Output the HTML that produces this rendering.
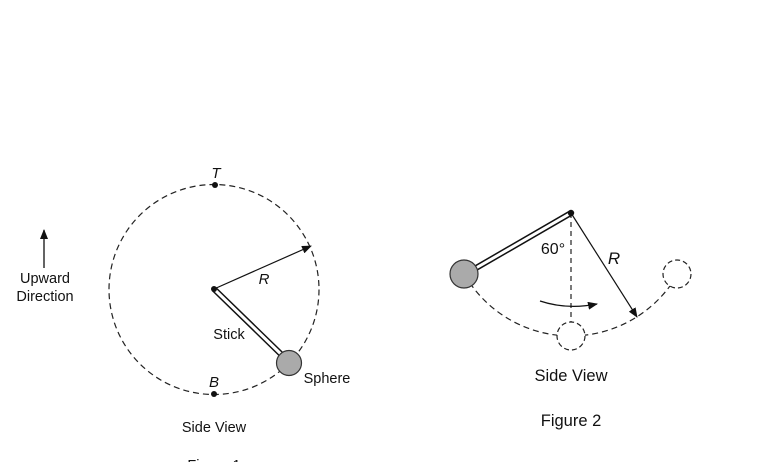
<!DOCTYPE html>
<html><head><style>body{margin:0;background:#fff}svg{display:block}text{font-family:"Liberation Sans",sans-serif;fill:#111}</style></head>
<body>
<svg width="768" height="462" viewBox="0 0 768 462" xmlns="http://www.w3.org/2000/svg">
<defs>
<marker id="ah" markerWidth="10" markerHeight="8" refX="9" refY="4" orient="auto" markerUnits="userSpaceOnUse"><path d="M0,0 L10,4 L0,8 Z" fill="#111"/></marker>
</defs>
<!-- Figure 1 -->
<line x1="44" y1="268" x2="44" y2="230" stroke="#111" stroke-width="1.3" marker-end="url(#ah)"/>
<text x="45" y="283" font-size="14.5" text-anchor="middle">Upward</text>
<text x="45" y="301" font-size="14.5" text-anchor="middle">Direction</text>
<circle cx="214" cy="289.5" r="105" fill="none" stroke="#222" stroke-width="1.2" stroke-dasharray="6,4"/>
<circle cx="215" cy="185" r="3" fill="#111"/>
<circle cx="214" cy="394" r="3" fill="#111"/>
<text x="216" y="178" font-size="15" font-style="italic" text-anchor="middle">T</text>
<text x="214" y="387" font-size="15" font-style="italic" text-anchor="middle">B</text>
<line x1="214" y1="289" x2="311" y2="246" stroke="#111" stroke-width="1.2" marker-end="url(#ah)"/>
<text x="264" y="284" font-size="15" font-style="italic" text-anchor="middle">R</text>
<line x1="214" y1="289" x2="285" y2="358" stroke="#111" stroke-width="6"/>
<line x1="214" y1="289" x2="285" y2="358" stroke="#fff" stroke-width="3"/>
<circle cx="214" cy="289" r="3" fill="#111"/>
<circle cx="289" cy="363" r="12.5" fill="#aaa" stroke="#333" stroke-width="1.2"/>
<text x="229" y="339" font-size="14.5" text-anchor="middle">Stick</text>
<text x="327" y="383" font-size="14.5" text-anchor="middle">Sphere</text>
<text x="214" y="432" font-size="14.5" text-anchor="middle">Side View</text>
<text x="214" y="470" font-size="14.5" text-anchor="middle">Figure 1</text>
<!-- Figure 2 -->
<path d="M464.5,274.5 A123,123 0 0 0 677.5,274.5" fill="none" stroke="#222" stroke-width="1.2" stroke-dasharray="6,4"/>
<line x1="571" y1="213" x2="571" y2="322" stroke="#222" stroke-width="1.2" stroke-dasharray="5,4"/>
<circle cx="571" cy="336" r="14" fill="#fff" stroke="#222" stroke-width="1.2" stroke-dasharray="5,3"/>
<circle cx="677" cy="274" r="14" fill="#fff" stroke="#222" stroke-width="1.2" stroke-dasharray="5,3"/>
<line x1="571" y1="213" x2="476" y2="268" stroke="#111" stroke-width="6"/>
<line x1="571" y1="213" x2="476" y2="268" stroke="#fff" stroke-width="3"/>
<circle cx="571" cy="213" r="3.2" fill="#111"/>
<circle cx="464" cy="274" r="14" fill="#aaa" stroke="#333" stroke-width="1.2"/>
<line x1="571" y1="213" x2="637" y2="317" stroke="#111" stroke-width="1.2" marker-end="url(#ah)"/>
<text x="553" y="254" font-size="16" text-anchor="middle">60°</text>
<text x="614" y="264" font-size="17" font-style="italic" text-anchor="middle">R</text>
<path d="M540,301 Q567,310 597,304" fill="none" stroke="#111" stroke-width="1.3" marker-end="url(#ah)"/>
<text x="571" y="381" font-size="16.5" text-anchor="middle">Side View</text>
<text x="571" y="426" font-size="16.5" text-anchor="middle">Figure 2</text>
</svg>
</body></html>
